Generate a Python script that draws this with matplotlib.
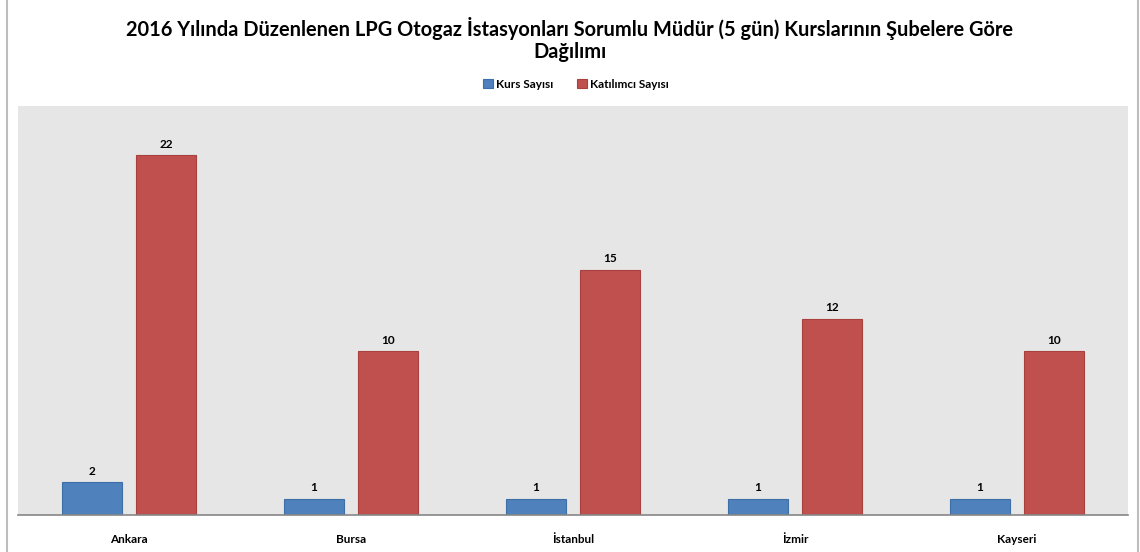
import numpy as np
import matplotlib.pyplot as plt
from matplotlib.lines import Line2D

# data
subeler = ["Ankara", "Bursa", "İstanbul", "İzmir", "Kayseri"]
kurs_sayisi = [2, 1, 1, 1, 1]
katilimci_sayisi = [22, 10, 15, 12, 10]

plt.rcParams["font.family"] = ["Lato", "DejaVu Sans"]

fig = plt.figure(figsize=(11.4, 5.52), dpi=100)
ax = fig.add_axes([18 / 1140, 1 - 515 / 552, 1110 / 1140, 409 / 552])
ax.set_facecolor("#e6e6e6")

x = np.arange(len(subeler))
w = 0.27
b1 = ax.bar(x - 0.167, kurs_sayisi, w, color="#4f81bd", edgecolor="#3d6ea5",
            linewidth=0.8, label="Kurs Sayısı")
b2 = ax.bar(x + 0.167, katilimci_sayisi, w, color="#c0504d", edgecolor="#a8413e",
            linewidth=0.8, label="Katılımcı Sayısı")

for bars in (b1, b2):
    ax.bar_label(bars, padding=4, fontsize=8.5, fontweight="bold")

ax.set_xlim(-0.5, len(subeler) - 0.5)
ax.set_ylim(0, 25)
ax.set_yticks([])
ax.set_xticks(x)
ax.set_xticklabels(subeler, fontsize=8.5, fontweight="bold")
ax.tick_params(axis="x", length=0, pad=14)
for s in ["top", "left", "right"]:
    ax.spines[s].set_visible(False)
ax.spines["bottom"].set_color("#868686")
ax.spines["bottom"].set_linewidth(1.2)

fig.text(0.5, 1 - 28 / 552,
         "2016 Yılında Düzenlenen LPG Otogaz İstasyonları Sorumlu Müdür (5 gün) Kurslarının Şubelere Göre",
         ha="center", va="center", fontsize=14.4, fontweight="bold")
fig.text(0.5, 1 - 52 / 552, "Dağılımı", ha="center", va="center",
         fontsize=14.4, fontweight="bold")

fig.legend(loc="center", bbox_to_anchor=(576 / 1140, 1 - 84 / 552), ncol=2,
           frameon=False, prop={"weight": "bold", "size": 8.5},
           handlelength=0.8, handleheight=0.8, handletextpad=0.3, columnspacing=2)

# outer frame lines of the chart
fig.add_artist(Line2D([7 / 1140, 7 / 1140], [0, 1], color="#bdbdbd", lw=1.5))
fig.add_artist(Line2D([1138 / 1140, 1138 / 1140], [0, 1], color="#bdbdbd", lw=1.5))

fig.savefig("out.png", dpi=100)
